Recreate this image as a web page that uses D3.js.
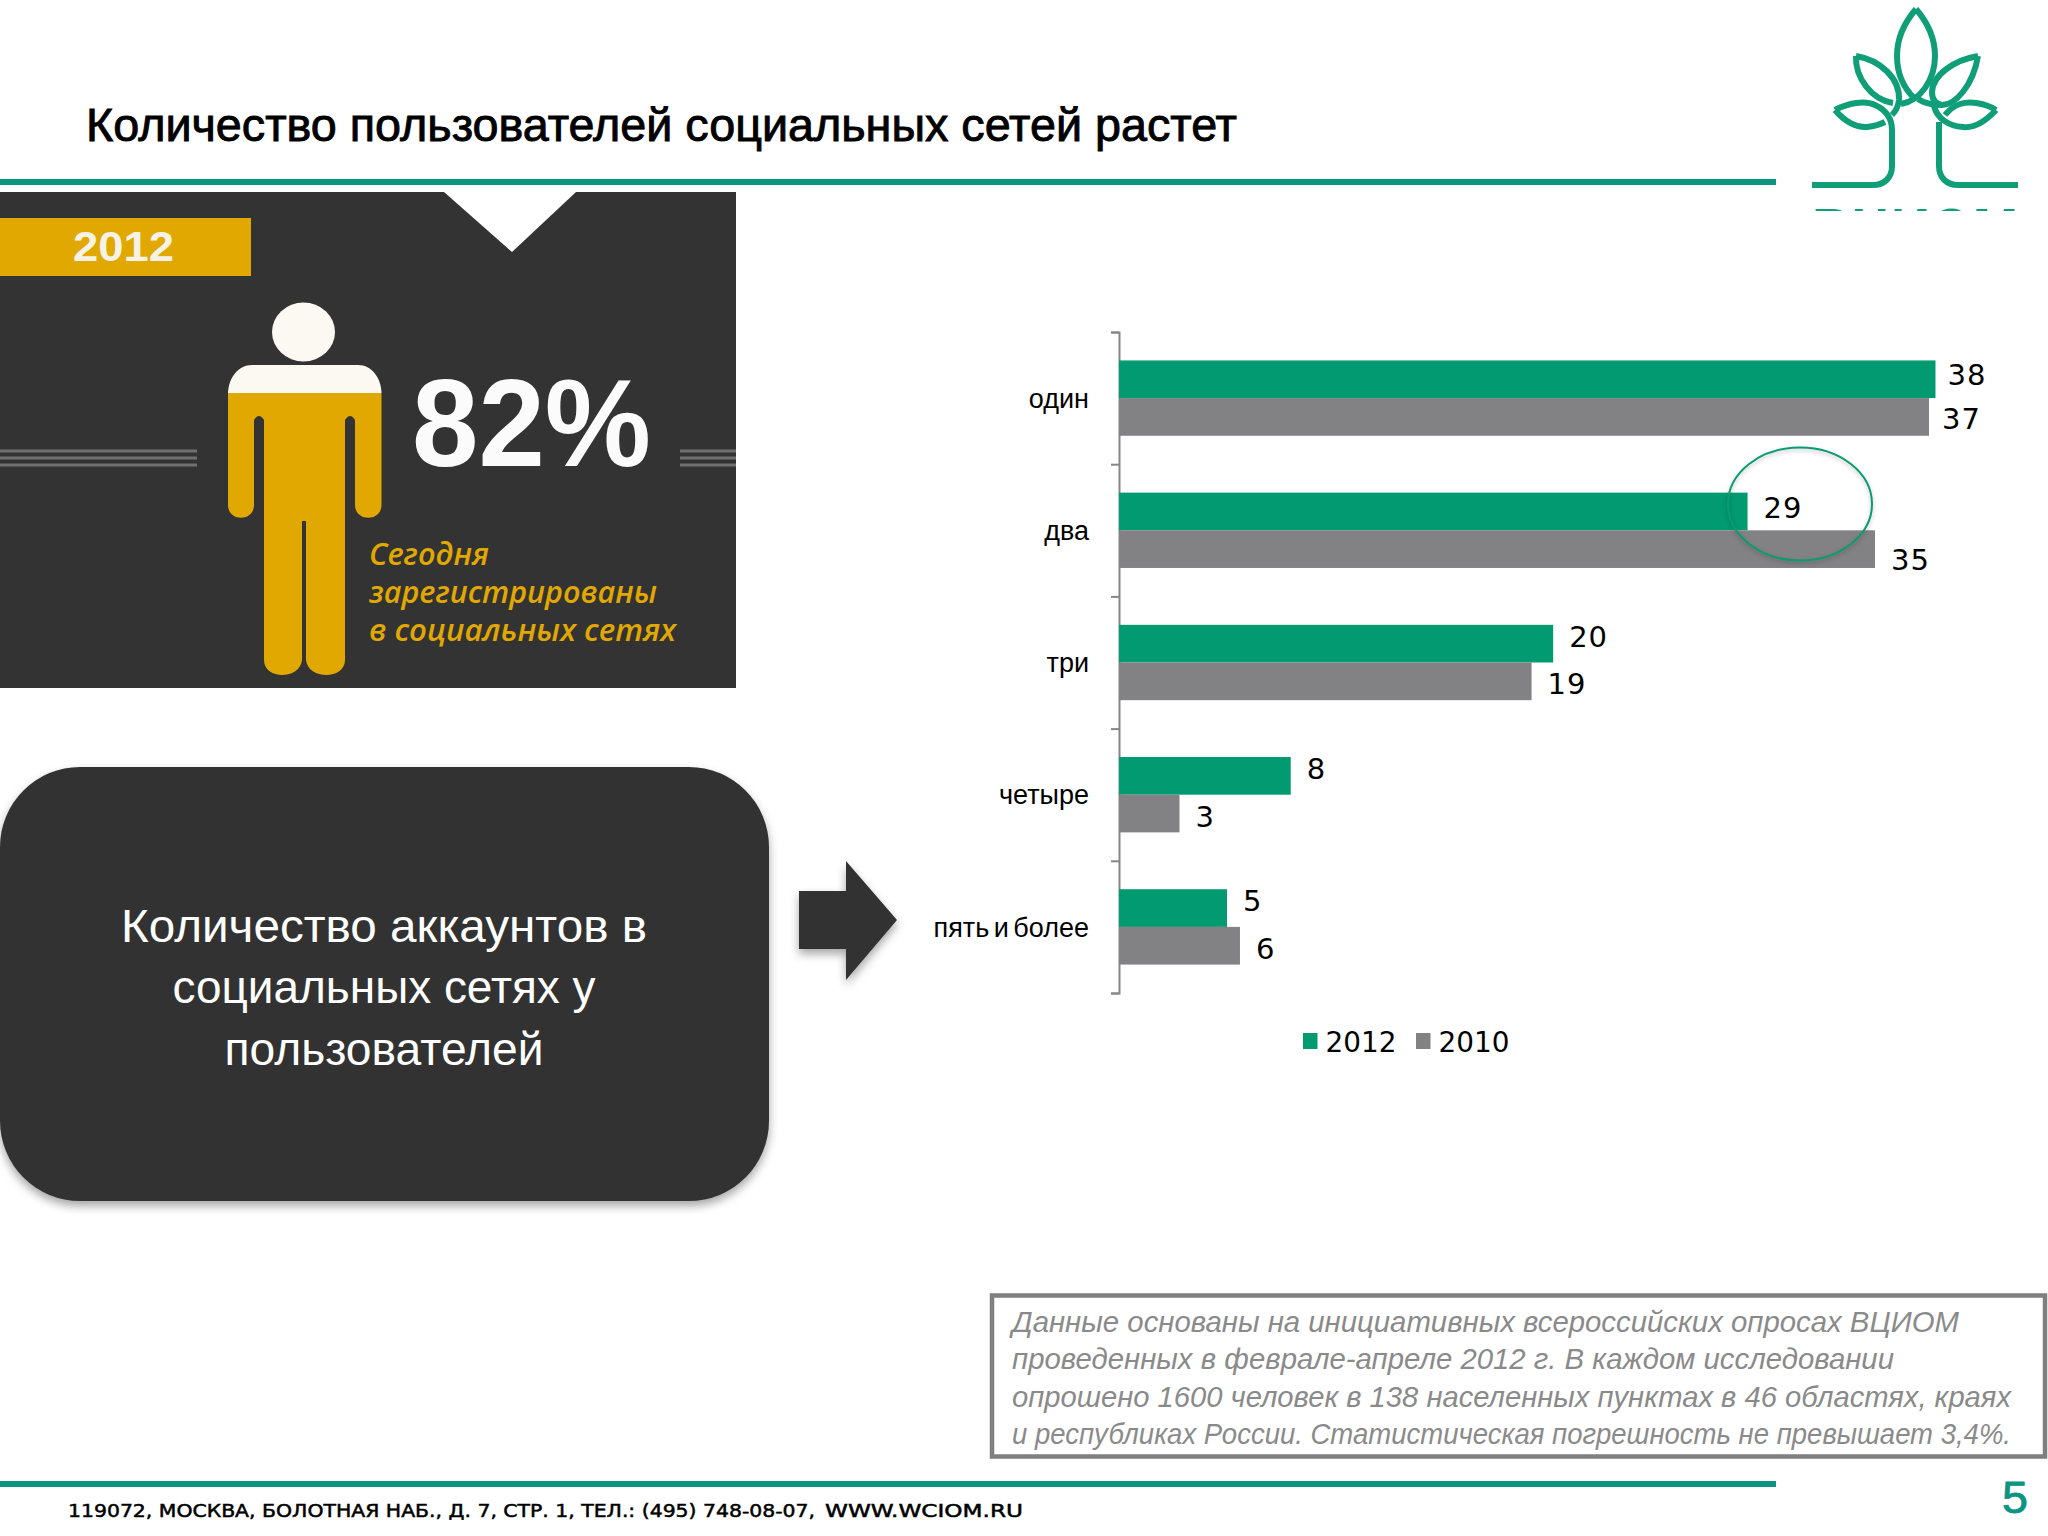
<!DOCTYPE html>
<html>
<head>
<meta charset="utf-8">
<script src="https://cdn.jsdelivr.net/npm/d3@7"></script>
<style>
  body { margin: 0; background: #fff; }
  svg { display: block; }
</style>
</head>
<body>
<script>
var categories = ["один", "два", "три", "четыре", "пять и более"];
var seriesNames = ["2012", "2010"];
var bars2012 = [37.8, 29.1, 20.1, 7.95, 5];
var bars2010 = [37.5, 35, 19.1, 2.8, 5.6];
var labels2012 = [38, 29, 20, 8, 5];
var labels2010 = [37, 35, 19, 3, 6];

var w = 2048;
var h = 1536;
var green = "#019a71";
var grey = "#828183";
var teal = "#0b9480";
var dark = "#333333";
var orange = "#e0a800";
var labelFont = "'DejaVu Sans', sans-serif";
var textFont = "'Liberation Sans', sans-serif";

var svg = d3.select("body").append("svg").attr("width", w).attr("height", h);

var defs = svg.append("defs");
defs.append("filter").attr("id", "shadow")
  .attr("x", "-10%").attr("y", "-10%").attr("width", "120%").attr("height", "125%")
  .append("feDropShadow")
  .attr("dx", 0).attr("dy", 5).attr("stdDeviation", 5)
  .attr("flood-color", "#000").attr("flood-opacity", 0.35);
defs.append("filter").attr("id", "glow")
  .attr("x", "-10%").attr("y", "-10%").attr("width", "120%").attr("height", "120%")
  .append("feDropShadow")
  .attr("dx", 0).attr("dy", 2).attr("stdDeviation", 2)
  .attr("flood-color", "#000").attr("flood-opacity", 0.25);
defs.append("clipPath").attr("id", "logoClip")
  .append("rect").attr("x", 1800).attr("y", 190).attr("width", 240).attr("height", 21);

// text helper, forces the measured width from the reference
function label(x, y, str, size, width, opts) {
  opts = opts || {};
  var t = svg.append("text")
    .attr("x", x).attr("y", y)
    .attr("font-family", opts.font || textFont)
    .attr("font-size", size)
    .attr("font-weight", opts.weight || "normal")
    .attr("font-style", opts.style || "normal")
    .attr("text-anchor", opts.anchor || "start")
    .attr("fill", opts.fill || "#000")
    .text(str);
  if (width) t.attr("textLength", width).attr("lengthAdjust", "spacingAndGlyphs");
  return t;
}

// header and footer
label(86, 141, "Количество пользователей социальных сетей растет", 47, 1151)
  .attr("stroke", "#000").attr("stroke-width", 0.9);
svg.append("rect").attr("x", 0).attr("y", 179).attr("width", 1776).attr("height", 6).attr("fill", teal);
svg.append("rect").attr("x", 0).attr("y", 1481).attr("width", 1776).attr("height", 6).attr("fill", teal);
label(68, 1517, "119072, МОСКВА, БОЛОТНАЯ НАБ., Д. 7, СТР. 1, ТЕЛ.: (495) 748-08-07,", 18, 747, { font: labelFont })
  .attr("stroke", "#000").attr("stroke-width", 0.5);
label(825, 1517, "WWW.WCIOM.RU", 18, 198, { font: labelFont })
  .attr("stroke", "#000").attr("stroke-width", 0.5);
label(2002, 1513, "5", 44, 26, { fill: teal }).attr("stroke", teal).attr("stroke-width", 0.8);

// logo
var logo = svg.append("g").attr("fill", "none").attr("stroke", "#0f9e78").attr("stroke-width", 6);
var logoPaths = [
  "M1916,9 C1904,23 1897,40 1897,56 C1897,74 1904,88 1914,98",
  "M1916,9 C1928,23 1935,40 1935,56 C1935,80 1920,101 1901,104",
  "M1856,56 C1880,60 1900,78 1899,100 C1898,108 1895,112 1892,115",
  "M1856,56 C1855,78 1872,100 1893,103",
  "M1978,56 C1955,60 1933,74 1932,92 C1932,100 1936,104 1942,105 C1955,105 1973,86 1978,56",
  "M1918,99 C1925,104 1932,105 1942,105",
  "M1835,110 C1848,103 1865,100 1875,105 C1886,110 1892,118 1892,130 L1892,166 C1892,178 1884,185 1873,185 L1812,185",
  "M1835,110 C1845,122 1857,128 1867,127 C1875,126 1881,124 1885,122",
  "M1996,110 C1985,103 1970,101 1960,104 C1954,106 1949,110 1945,115",
  "M1996,110 C1985,122 1973,128 1963,127 C1948,126 1937,118 1934,106",
  "M1939,122 L1939,166 C1939,178 1947,185 1958,185 L2018,185"
];
logo.selectAll("path").data(logoPaths).enter().append("path").attr("d", function (d) { return d; });
label(1812, 250, "ВЦИОМ", 60, 206, { weight: "bold", fill: "#0f9e78" }).attr("clip-path", "url(#logoClip)");

// infographic panel
svg.append("rect").attr("x", 0).attr("y", 192).attr("width", 736).attr("height", 496).attr("fill", dark);
svg.append("path").attr("d", "M444,192 L512,252 L576,192 Z").attr("fill", "#fff");
svg.append("rect").attr("x", 0).attr("y", 218).attr("width", 251).attr("height", 58).attr("fill", orange);
label(73, 261, "2012", 42, 101, { weight: "bold", fill: "#f6f3e6" });

svg.selectAll("line.rule").data([451, 458, 465]).enter().append("line")
  .attr("class", "rule").attr("x1", 0).attr("x2", 197)
  .attr("y1", function (d) { return d; }).attr("y2", function (d) { return d; })
  .attr("stroke", "#707070").attr("stroke-width", 3);
svg.selectAll("line.rule2").data([451, 458, 465]).enter().append("line")
  .attr("class", "rule2").attr("x1", 680).attr("x2", 736)
  .attr("y1", function (d) { return d; }).attr("y2", function (d) { return d; })
  .attr("stroke", "#707070").attr("stroke-width", 3);

// person figure
svg.append("ellipse").attr("cx", 303.5).attr("cy", 332).attr("rx", 31.5).attr("ry", 29.5).attr("fill", "#fbf9f2");
svg.append("path")
  .attr("d", "M252,365 L358,365 C372,365 381,378 381.5,393 L228,393 C228.5,378 238,365 252,365 Z")
  .attr("fill", "#fbf9f2");
svg.append("path")
  .attr("d", "M228,393 L381.5,393 L381.5,505 C381.5,522 355,522 355,505 L355,420 Q350,412 345,420 L345,660 "
    + "C345,680 308,680 306,660 L306,521 L302,521 L302,660 C300,680 264,680 264,660 L264,420 Q259,412 254,420 "
    + "L254,505 C254,522 228,522 228,505 Z")
  .attr("fill", orange);

label(412, 466, "82%", 124, 239, { weight: "bold", fill: "#fbfbfb" });
label(369, 565, "Сегодня", 30, 120, { font: "'Open Sans', sans-serif", style: "italic", weight: 600, fill: orange });
label(369, 603, "зарегистрированы", 30, 288, { font: "'Open Sans', sans-serif", style: "italic", weight: 600, fill: orange });
label(369, 641, "в социальных сетях", 30, 307, { font: "'Open Sans', sans-serif", style: "italic", weight: 600, fill: orange });

// rounded box and arrow
svg.append("rect").attr("x", 0).attr("y", 767).attr("width", 769).attr("height", 434).attr("rx", 80)
  .attr("fill", dark).attr("filter", "url(#shadow)");
label(384, 942, "Количество аккаунтов в", 46, 526, { anchor: "middle", fill: "#fff" });
label(384, 1003, "социальных сетях у", 46, 423, { anchor: "middle", fill: "#fff" });
label(384, 1065, "пользователей", 46, 319, { anchor: "middle", fill: "#fff" });
svg.append("path").attr("d", "M799,891 L846,891 L846,861 L897,920 L846,980 L846,949 L799,949 Z")
  .attr("fill", dark).attr("filter", "url(#shadow)");

// bar chart
var x = d3.scaleLinear().domain([0, 40]).range([1119, 1983]);
var y = d3.scaleBand().domain(categories).range([332, 993]).paddingInner(0.43).paddingOuter(0.215);
var y1 = d3.scaleBand().domain(seriesNames).range([0, y.bandwidth()]);
var yTicks = d3.scaleLinear().domain([0, categories.length]).range([332, 993]);

var tickAxis = svg.append("g").attr("transform", "translate(1119,0)")
  .call(d3.axisLeft(yTicks).tickValues(d3.range(categories.length + 1)).tickFormat("").tickSize(8));
tickAxis.selectAll("path, line").attr("stroke", "#868686").attr("stroke-width", 2);

var catAxis = svg.append("g").attr("transform", "translate(1119,1)")
  .call(d3.axisLeft(y).tickSize(0).tickPadding(30));
catAxis.select("path").remove();
catAxis.selectAll("text").attr("font-family", textFont).attr("font-size", 27).attr("fill", "#000")
  .attr("word-spacing", "-3px");

var series = [
  { name: seriesNames[0], bars: bars2012, labels: labels2012, color: green, dy: -7 },
  { name: seriesNames[1], bars: bars2010, labels: labels2010, color: grey, dy: 3 }
];

// a few printed labels sit off the common offset in the source: [dx, dy]
var labelNudges = { 38: [-4, 3], 37: [-3, -1], 35: [0, 8], 29: [0, 4] };
function nudge(d, k) { return labelNudges[d] ? labelNudges[d][k] : 0; }

series.forEach(function (s) {
  svg.selectAll("rect.bar" + s.name).data(s.bars).enter().append("rect")
    .attr("class", "bar" + s.name)
    .attr("x", x(0))
    .attr("y", function (d, i) { return y(categories[i]) + y1(s.name); })
    .attr("width", function (d) { return x(d) - x(0); })
    .attr("height", y1.bandwidth())
    .attr("fill", s.color);

  svg.selectAll("text.val" + s.name).data(s.labels).enter().append("text")
    .attr("class", "val" + s.name)
    .attr("x", function (d, i) { return x(s.bars[i]) + 16 + nudge(d, 0); })
    .attr("y", function (d, i) {
      return y(categories[i]) + y1(s.name) + y1.bandwidth() / 2 + s.dy + nudge(d, 1);
    })
    .attr("dominant-baseline", "central")
    .attr("font-family", labelFont)
    .attr("font-size", 29)
    .attr("letter-spacing", "1px")
    .attr("fill", "#000")
    .text(function (d) { return d; });
});

// hand drawn highlight around 29
svg.append("ellipse")
  .attr("cx", 1800).attr("cy", 504).attr("rx", 72).attr("ry", 56.5)
  .attr("fill", "none").attr("stroke", "#0a9a70").attr("stroke-width", 2)
  .attr("filter", "url(#glow)");

// legend
var legendX = [1303, 1416];
series.forEach(function (s, i) {
  svg.append("rect").attr("x", legendX[i]).attr("y", 1033).attr("width", 14.5).attr("height", 16).attr("fill", s.color);
  label(legendX[i] + 22.5, 1052, s.name, 28, 71, { font: labelFont });
});

// footnote box
svg.append("rect").attr("x", 992).attr("y", 1295.5).attr("width", 1053).attr("height", 161)
  .attr("fill", "#fff").attr("stroke", "#7f7f7f").attr("stroke-width", 4.5);
var noteLines = [
  ["Данные основаны на инициативных всероссийских опросах ВЦИОМ", 947],
  ["проведенных в феврале-апреле 2012 г. В каждом исследовании", 882],
  ["опрошено 1600 человек в 138 населенных пунктах в 46 областях, краях", 999],
  ["и республиках России. Статистическая погрешность не превышает 3,4%.", 999]
];
noteLines.forEach(function (d, i) {
  label(1012, 1332 + i * 37.4, d[0], 29, d[1], { style: "italic", fill: "#8a8a8a" });
});
</script>
</body>
</html>
